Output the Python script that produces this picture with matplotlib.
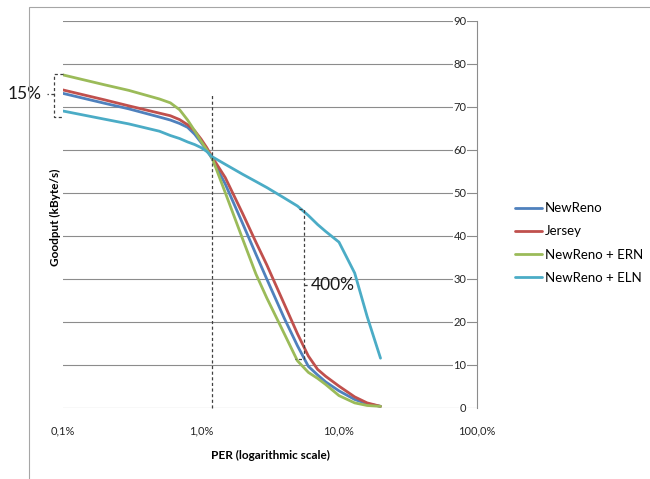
import matplotlib.pyplot as plt
from matplotlib.patches import Rectangle

plt.rcParams['font.family'] = ['Lato', 'DejaVu Sans']

# packet error rate (%) and goodput (kByte/s)
per = [0.1, 0.2, 0.3, 0.5, 0.6, 0.7, 0.8, 0.9, 1.0, 1.1, 1.2, 1.5, 2.0, 2.5,
       3.0, 4.0, 5.0, 6.0, 7.0, 8.0, 10, 13, 16, 20]
newreno = [73.1, 70.8, 69.5, 67.6, 66.9, 66.1, 65.2, 63.6, 61.7, 59.9, 58.0, 52.0,
           42.9, 35.7, 29.9, 20.9, 14.4, 9.6, 7.6, 6.0, 3.9, 1.9, 0.9, 0.3]
jersey = [73.9, 71.6, 70.2, 68.5, 67.9, 67.0, 65.8, 64.4, 62.5, 60.5, 58.4, 53.5,
          45.2, 38.5, 33.2, 24.2, 17.2, 12.0, 8.9, 7.3, 5.0, 2.5, 1.1, 0.3]
ern = [77.4, 75.1, 73.8, 71.8, 70.9, 69.3, 66.9, 64.4, 62.0, 60.0, 58.2, 50.0,
       39.3, 31.1, 25.5, 17.3, 10.9, 8.2, 6.8, 5.4, 2.8, 1.1, 0.5, 0.3]
eln = [69.0, 67.1, 66.0, 64.3, 63.3, 62.6, 61.8, 61.2, 60.5, 59.6, 58.4, 56.6,
       54.3, 52.6, 51.2, 48.8, 46.9, 44.7, 42.6, 41.0, 38.5, 31.3, 21.2, 11.5]

series = [("NewReno", newreno, "#4F81BD"),
          ("Jersey", jersey, "#C0504D"),
          ("NewReno + ERN", ern, "#9BBB59"),
          ("NewReno + ELN", eln, "#4BACC6")]

xticks = [0.1, 1, 10, 100]
xticklabels = ["0,1%", "1,0%", "10,0%", "100,0%"]
yticks = list(range(0, 91, 10))

fig = plt.figure(figsize=(6.5, 4.79), dpi=100)
ax = fig.add_axes([0.0969, 0.149, 0.6369, 0.8077])

for name, vals, col in series:
    ax.plot(per, vals, color=col, lw=2, label=name, solid_capstyle="round",
            solid_joinstyle="round", zorder=3)

ax.set_xscale("log")
ax.set_xlim(0.1, 100)
ax.set_ylim(0, 90)
ax.set_xticks(xticks)
ax.set_xticklabels(xticklabels)
ax.minorticks_off()
ax.set_yticks(yticks)

ax.grid(axis="y", color="#8c8c8c", lw=0.8)
ax.set_axisbelow(True)
for s in ["top", "left", "bottom"]:
    ax.spines[s].set_visible(False)
ax.spines["right"].set_color("#8c8c8c")
ax.spines["right"].set_linewidth(0.8)

ax.tick_params(axis="x", length=0, pad=13, labelsize=8, labelcolor="#262626")
ax.yaxis.tick_right()
ax.tick_params(axis="y", length=0, pad=-7.5, labelsize=8, labelcolor="#262626")
plt.setp(ax.get_yticklabels(), ha="right",
         bbox=dict(facecolor="white", edgecolor="none", pad=0.6))

ax.set_xlabel("PER (logarithmic scale)", fontsize=8.5, fontweight="bold", va="center")
ax.xaxis.set_label_coords(0.5, -0.1225)
ax.yaxis.set_label_position("left")
ax.set_ylabel("Goodput (kByte/s)", fontsize=8.5, fontweight="bold", ha="center", va="center")
ax.yaxis.set_label_coords(-0.019, 0.4926)

# dashed marker at 1.2% PER
dash = dict(color="#404040", lw=0.9, ls=(0, (2.5, 2)), clip_on=False, zorder=4)
ax.plot([1.2, 1.2], [0, 73.2], **dash)

# 15% brace on the left
top, bot, mid = ern[0] + 0.2, eln[0] - 1.3, 73.0
ax.plot([0.1, 0.086, 0.086, 0.1], [top, top, bot, bot], **dash)
ax.plot([0.086, 0.076], [mid, mid], **dash)
ax.text(0.0705, mid, "15%", ha="right", va="center", fontsize=12.5, color="#1a1a1a")

# 400% bracket
bx, btop, bbot, bmid = 5.57, 46.1, 11.3, 28.5
ax.plot([5.12, bx, bx, 4.83], [btop, btop, bbot, bbot], **dash)
ax.plot([bx, 6.05], [bmid, bmid], **dash)
ax.text(6.2, bmid, "400%", ha="left", va="center", fontsize=12.5, color="#1a1a1a")

fig.legend(loc="center left", bbox_to_anchor=(0.792, 0.4927), frameon=False,
           fontsize=9.5, handlelength=2.05, handletextpad=0.25, labelspacing=0.85,
           borderpad=0, borderaxespad=0)

# chart area border
fig.patches.append(Rectangle((0.0446, -0.1), 2, 1.0854, transform=fig.transFigure,
                             fill=False, edgecolor="#a6a6a6", lw=0.8))

fig.savefig("out.png", dpi=100)
